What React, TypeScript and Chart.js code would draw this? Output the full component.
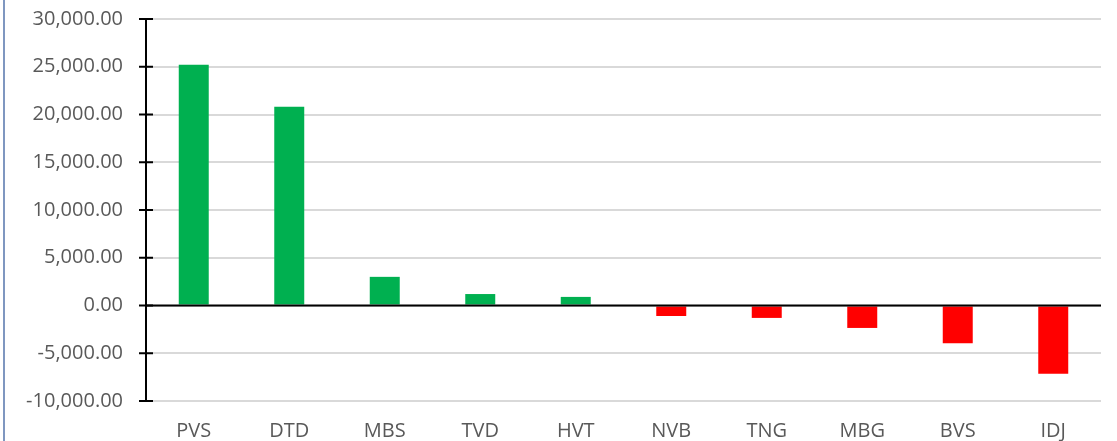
import React, { useEffect, useRef } from "react";
import { Chart, registerables } from "chart.js";

Chart.register(...registerables);

const categories = ["PVS", "DTD", "MBS", "TVD", "HVT", "NVB", "TNG", "MBG", "BVS", "IDJ"];
const values = [25200, 20800, 3000, 1200, 900, -1100, -1300, -2350, -3950, -7150];
const yTicks = [-10000, -5000, 0, 5000, 10000, 15000, 20000, 25000, 30000];

const GREEN = "#00B050";
const RED = "#FF0000";

const fmt = (v: number) =>
  v.toLocaleString("en-US", { minimumFractionDigits: 2, maximumFractionDigits: 2 });

const decor = {
  id: "decor",
  afterDraw(chart: any) {
    const ctx = chart.ctx;
    const y = chart.scales.y;
    const area = chart.chartArea;
    ctx.save();
    ctx.strokeStyle = "#7F97C0";
    ctx.lineWidth = 2;
    ctx.beginPath();
    ctx.moveTo(4, 0);
    ctx.lineTo(4, chart.height);
    ctx.stroke();
    const y0 = y.getPixelForValue(0);
    ctx.strokeStyle = "#000";
    ctx.lineWidth = 2;
    ctx.beginPath();
    ctx.moveTo(area.left, y0);
    ctx.lineTo(area.right, y0);
    ctx.stroke();
    ctx.beginPath();
    ctx.moveTo(area.left, y.getPixelForValue(30000));
    ctx.lineTo(area.left, y.getPixelForValue(-10000));
    ctx.stroke();
    for (const t of yTicks) {
      const py = y.getPixelForValue(t);
      ctx.beginPath();
      ctx.moveTo(area.left - 7, py);
      ctx.lineTo(area.left + 7, py);
      ctx.stroke();
    }
    ctx.restore();
  },
};

export default function App() {
  const ref = useRef<HTMLCanvasElement | null>(null);
  useEffect(() => {
    document.body.style.margin = "0";
    const chart = new Chart(ref.current!, {
      type: "bar",
      data: {
        labels: categories,
        datasets: [
          {
            data: values,
            backgroundColor: values.map((v) => (v >= 0 ? GREEN : RED)),
            barPercentage: 0.314,
            categoryPercentage: 1,
          },
        ],
      },
      options: {
        animation: false,
        responsive: false,
        maintainAspectRatio: false,
        layout: { padding: { top: 0, right: 16, bottom: 0, left: 0 } },
        plugins: { legend: { display: false }, tooltip: { enabled: false } },
        scales: {
          x: {
            grid: { display: false, drawTicks: false },
            border: { display: false },
            ticks: {
              color: "#595959",
              font: { family: "Open Sans", size: 20 },
              padding: 18,
              maxRotation: 0,
            },
            afterFit(scale: any) {
              scale.height = 40;
            },
          },
          y: {
            min: -10000,
            max: 30000,
            afterBuildTicks(scale: any) {
              scale.ticks = yTicks.map((v) => ({ value: v }));
            },
            grid: { color: "#D9D9D9", lineWidth: 2, drawTicks: false },
            border: { display: false },
            ticks: {
              color: "#595959",
              font: { family: "Open Sans", size: 20 },
              padding: 23,
              callback: (v: any) => fmt(Number(v)),
            },
            afterFit(scale: any) {
              scale.width = 146;
              scale.paddingTop = 19;
            },
          },
        },
      },
      plugins: [decor],
    });
    return () => chart.destroy();
  }, []);
  return (
    <div style={{ width: 1117, height: 441 }}>
      <canvas ref={ref} width={1117} height={441} />
    </div>
  );
}
